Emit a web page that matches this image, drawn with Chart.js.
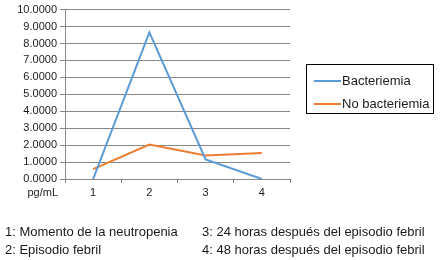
<!DOCTYPE html>
<html><head><meta charset="utf-8">
<script src="https://cdn.jsdelivr.net/npm/chart.js@4/dist/chart.umd.min.js"></script>
<style>
html,body{margin:0;padding:0;background:#fff;}
#wrap{position:relative;width:440px;height:260px;font-family:"Liberation Sans",Arial,sans-serif;color:#1a1a1a;}
#c{position:absolute;left:0;top:0;}
#legend{position:absolute;left:306px;top:64px;width:126px;height:48px;border:1px solid #000;box-sizing:content-box;font-size:13px;}
.li{position:absolute;left:7px;height:14px;line-height:14px;white-space:nowrap;}
.li span.sw{display:inline-block;width:27px;height:2px;vertical-align:middle;margin-right:1px;position:relative;top:-1px;}
.fn{position:absolute;font-size:13px;white-space:nowrap;line-height:15px;}
</style></head>
<body>
<div id="wrap">
<canvas id="c" width="440" height="260"></canvas>
<div id="legend"></div>
<div id="notes"></div>
</div>
<script>
const categories = ['1', '2', '3', '4'];
const bacteriemia = [0.0, 8.65, 1.15, 0.0];
const noBacteriemia = [0.58, 2.03, 1.39, 1.54];
const seriesNames = ['Bacteriemia', 'No bacteriemia'];
const unitLabel = 'pg/mL';
const footnotes = ['1: Momento de la neutropenia', '2: Episodio febril', '3: 24 horas después del episodio febril', '4: 48 horas después del episodio febril'];

const gridColor = '#878787';
const unitPlugin = {
  id: 'unit',
  afterDraw(chart) {
    const ctx = chart.ctx, a = chart.chartArea;
    ctx.save();
    ctx.font = '11px "Liberation Sans", Arial, sans-serif';
    ctx.fillStyle = '#1a1a1a';
    ctx.textAlign = 'right';
    ctx.textBaseline = 'middle';
    ctx.fillText(unitLabel, a.left - 7, a.bottom + 14);
    ctx.restore();
  }
};

const chart = new Chart(document.getElementById('c'), {
  type: 'line',
  data: {
    labels: categories,
    datasets: [
      {label: seriesNames[0], data: bacteriemia, borderColor: '#5b9bd5', backgroundColor: '#5b9bd5', borderWidth: 2, pointRadius: 0, tension: 0},
      {label: seriesNames[1], data: noBacteriemia, borderColor: '#ed7d31', backgroundColor: '#ed7d31', borderWidth: 2, pointRadius: 0, tension: 0}
    ]
  },
  options: {
    responsive: false,
    animation: false,
    devicePixelRatio: 1,
    layout: {padding: {top: 8, right: 150, bottom: 60, left: 0}},
    plugins: {legend: {display: false}, tooltip: {enabled: false}},
    scales: {
      x: {
        offset: true,
        grid: {offset: true, drawOnChartArea: false, drawTicks: true, tickLength: 4, color: gridColor},
        border: {display: true, color: gridColor, width: 1},
        ticks: {color: '#1a1a1a', font: {size: 11, family: '"Liberation Sans", Arial, sans-serif'}, padding: 3, maxRotation: 0},
        afterFit(s) { s.height = 21; }
      },
      y: {
        min: 0, max: 10,
        ticks: {stepSize: 1, color: '#1a1a1a', padding: 3, font: {size: 11, family: '"Liberation Sans", Arial, sans-serif'}, callback: v => Number(v).toFixed(4)},
        grid: {color: gridColor, tickLength: 5},
        border: {display: true, color: gridColor, width: 1},
        afterFit(s) { s.width = 65; }
      }
    }
  },
  plugins: [unitPlugin]
});

// legend built from chart datasets
const lg = document.getElementById('legend');
chart.data.datasets.forEach((ds, i) => {
  const d = document.createElement('div');
  d.className = 'li';
  d.style.top = (9 + i * 23) + 'px';
  d.innerHTML = '<span class="sw" style="background:' + ds.borderColor + '"></span>' + ds.label;
  lg.appendChild(d);
});
// footnotes
const notes = document.getElementById('notes');
const pos = [[5, 224], [5, 242], [202, 224], [202, 242]];
footnotes.forEach((t, i) => {
  const d = document.createElement('div');
  d.className = 'fn';
  d.style.left = pos[i][0] + 'px';
  d.style.top = pos[i][1] + 'px';
  d.textContent = t;
  notes.appendChild(d);
});
</script>
</body></html>
